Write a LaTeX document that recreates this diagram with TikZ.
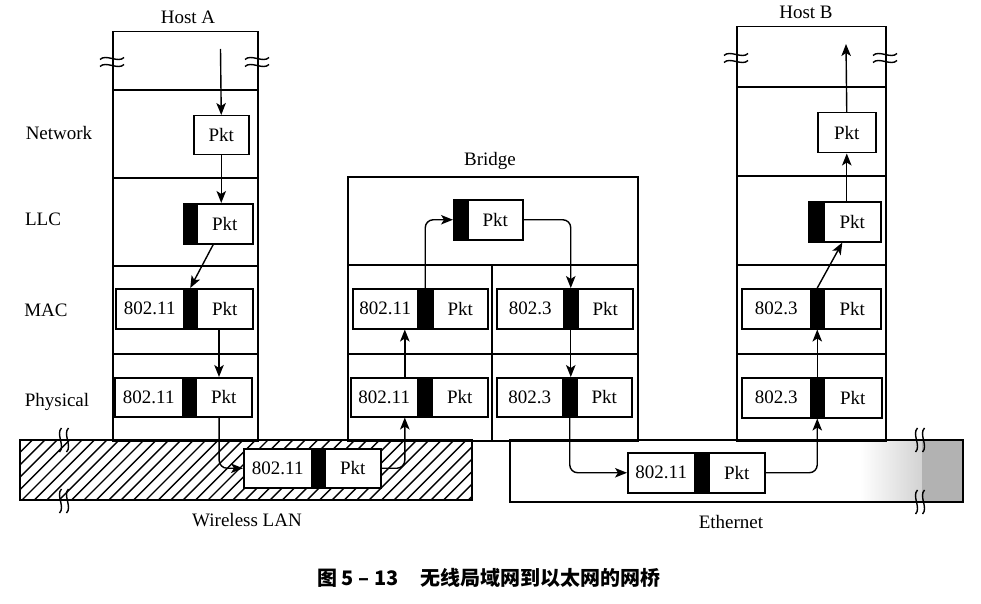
\documentclass[tikz,border=0pt]{standalone}
\usepackage{fontspec}
\setmainfont{Liberation Serif}
\newfontfamily\cjk{Noto Sans CJK SC}
\usetikzlibrary{arrows.meta,calc}
\tikzset{
  lbox/.style={draw, line width=1.5pt, fill=white, inner sep=0pt, anchor=north west, font=\fontsize{19}{21}\selectfont},
  hbox/.style={draw, line width=1.5pt, fill=black, inner sep=0pt, anchor=north west},
  hostbox/.style={draw, line width=1.5pt, inner sep=0pt, anchor=north west},
  arr/.style={line width=1.4pt, -{Stealth[length=12pt,width=9.5pt,inset=3pt]}},
  wall/.style={line width=1.5pt},
  brk/.style={line width=1.4pt},
  lbl/.style={font=\fontsize{19}{21}\selectfont, inner sep=0pt}
}
\newcommand\frm[8]{%
  \pgfmathsetmacro\fwa{#3-#2}%
  \pgfmathsetmacro\fwb{#4-#3}%
  \pgfmathsetmacro\fwc{#5-#4}%
  \pgfmathsetmacro\fht{#7-#6}%
  \node[lbox,minimum width=\fwa pt,minimum height=\fht pt] (#1l) at (#2,#6) {#8};
  \node[hbox,minimum width=\fwb pt,minimum height=\fht pt] (#1h) at (#3,#6) {};
  \node[lbox,minimum width=\fwc pt,minimum height=\fht pt] (#1p) at (#4,#6) {Pkt};
}
\newcommand\hbrk[2]{%
  \draw[brk] (#1-12,#2-3.5+1) .. controls (#1-6,#2-3.5-5) and (#1+6,#2-3.5+5) .. (#1+12,#2-3.5-1);
  \draw[brk] (#1-12,#2+3.5+1) .. controls (#1-6,#2+3.5-5) and (#1+6,#2+3.5+5) .. (#1+12,#2+3.5-1);
}
\newcommand\vbrk[2]{%
  \draw[brk] (#1-3.5+1,#2-12) .. controls (#1-3.5-5,#2-6) and (#1-3.5+5,#2+6) .. (#1-3.5-1,#2+12);
  \draw[brk] (#1+3.5+1,#2-12) .. controls (#1+3.5-5,#2-6) and (#1+3.5+5,#2+6) .. (#1+3.5-1,#2+12);
}
\begin{document}
\begin{tikzpicture}[x=1pt,y=-1pt]
\useasboundingbox (0,0) rectangle (981,604);
\fill[white] (0,0) rectangle (981,604);

% Wireless LAN (hatched)
\begin{scope}
  \clip (20,440) rectangle (472,500);
  \foreach \i in {0,...,42} {
    \draw[line width=1.4pt] (20+\i*12.4-60,500) -- ++(60,-60);
  }
\end{scope}
\draw[wall] (20,440) rectangle (472,500);
\vbrk{64}{440}
\vbrk{64}{501}

% Ethernet
\shade[left color=white, right color=gray!35] (860,440) rectangle (922,502);
\fill[gray!60] (922,440) rectangle (963,502);
\draw[wall] (510,440) rectangle (963,502);
\vbrk{920}{440}
\vbrk{920}{502}

% Host A
\node[hostbox, minimum width=145pt, minimum height=409pt] (hostA) at (112,31) {};
\draw[wall] (112,90) -- (257,90);
\draw[wall] (112,178) -- (257,178);
\draw[wall] (112,266) -- (257,266);
\draw[wall] (112,354) -- (257,354);
\hbrk{112}{62}
\hbrk{257}{62}
\node[lbl] (hostAlbl) at (188,17) {Host A};

% Bridge
\node[hostbox, minimum width=290pt, minimum height=264pt] (bridge) at (347,176) {};
\draw[wall] (347,265) -- (637,265);
\draw[wall] (347,354) -- (637,354);
\draw[wall] (492,265) -- (492,440);
\node[lbl] (bridgelbl) at (490,161) {Bridge};

% Host B
\node[hostbox, minimum width=149pt, minimum height=414pt] (hostB) at (736,26) {};
\draw[wall] (736,87) -- (885,87);
\draw[wall] (736,176) -- (885,176);
\draw[wall] (736,265) -- (885,265);
\draw[wall] (736,354) -- (885,354);
\hbrk{736}{58}
\hbrk{885}{58}
\node[lbl] (hostBlbl) at (806,12) {Host B};

% layer labels
\node[lbl] (lnet) at (59,133) {Network};
\node[lbl] (lllc) at (43,219) {LLC};
\node[lbl] (lmac) at (46,310) {MAC};
\node[lbl] (lphy) at (57,402) {Physical};

% Host A frames
\node[lbox, minimum width=55pt, minimum height=39pt] (aN) at (193,115) {Pkt};
\node[hbox, minimum width=13pt, minimum height=40pt] (aLh) at (183,203) {};
\node[lbox, minimum width=56pt, minimum height=40pt] (aLp) at (196,203) {Pkt};
\frm{aM}{115}{183}{196}{252}{288}{328}{802.11}
\frm{aP}{114}{182}{195}{251}{377}{416}{802.11}

% wireless frame
\frm{wF}{243}{311}{324}{380}{448}{487}{802.11}

% Bridge frames
\node[hbox, minimum width=14pt, minimum height=40pt] (bTh) at (453,199) {};
\node[lbox, minimum width=55pt, minimum height=40pt] (bTp) at (467,199) {Pkt};
\frm{bLM}{352}{417}{432}{487}{288}{328}{802.11}
\frm{bLP}{350}{417}{431}{487}{377}{416}{802.11}
\frm{bRM}{496}{563}{577}{632}{288}{328}{802.3}
\frm{bRP}{496}{562}{576}{631}{377}{416}{802.3}

% ethernet frame
\frm{eF}{627}{694}{708}{764}{452}{492}{802.11}

% Host B frames
\node[lbox, minimum width=58pt, minimum height=40pt] (BN) at (817,112) {Pkt};
\node[hbox, minimum width=15pt, minimum height=40pt] (BLh) at (808,201) {};
\node[lbox, minimum width=57pt, minimum height=40pt] (BLp) at (823,201) {Pkt};
\frm{BM}{741}{810}{823}{880}{288}{328}{802.3}
\frm{BP}{741}{810}{823}{881}{377}{417}{802.3}

% helper coordinates on frame edges
\coordinate (aTop) at (220.5,49);
\coordinate (BTop) at (846,44);
\coordinate (aLs) at ($(aLp.south west)!0.3!(aLp.south east)$);
\coordinate (aMs) at ($(aMp.south west)!0.4!(aMp.south east)$);
\coordinate (aPs) at ($(aPp.south west)!0.42!(aPp.south east)$);
\coordinate (bLPs) at ($(bLPl.south west)!0.8!(bLPl.south east)$);
\coordinate (bLPn) at ($(bLPl.north west)!0.8!(bLPl.north east)$);
\coordinate (BLs) at ($(BLp.south west)!0.33!(BLp.south east)$);

% arrows
\draw[arr] (aTop) -- (aN.north);
\draw[arr] (aN.south) -- (aN.south |- aLp.north);
\draw[arr] (aLs) -- (aMh.north);
\draw[arr] (aMs) -- (aMs |- aPp.north);
\draw[arr, rounded corners=8pt] (aPs) |- (wFl.west);
\draw[arr, rounded corners=8pt] (wFp.east) -| (bLPs);
\draw[arr] (bLPn) -- (bLPn |- bLMl.south);
\draw[arr, rounded corners=8pt] (bLMh.north) |- (bTh.west);
\draw[arr, rounded corners=8pt] (bTp.east) -| (bRMh.north);
\draw[arr] (bRMh.south) -- (bRMh.south |- bRPh.north);
\draw[arr, rounded corners=8pt] (bRPh.south) |- (eFl.west);
\draw[arr, rounded corners=8pt] (eFp.east) -| (BPh.south);
\draw[arr] (BPh.north) -- (BMh.south);
\draw[arr] (BMh.north) -- (BLs);
\draw[arr] (BN.south |- BLp.north) -- (BN.south);
\draw[arr] (BN.north) -- (BTop);

% bottom labels
\node[lbl] (wlan) at (247,520) {Wireless LAN};
\node[lbl] (eth) at (731,522) {Ethernet};
\node[font=\cjk\bfseries\fontsize{20}{22}\selectfont, inner sep=0pt] (cap) at (489,578) {图 5 – 13\hspace{1.1em}无线局域网到以太网的网桥};
\end{tikzpicture}
\end{document}
